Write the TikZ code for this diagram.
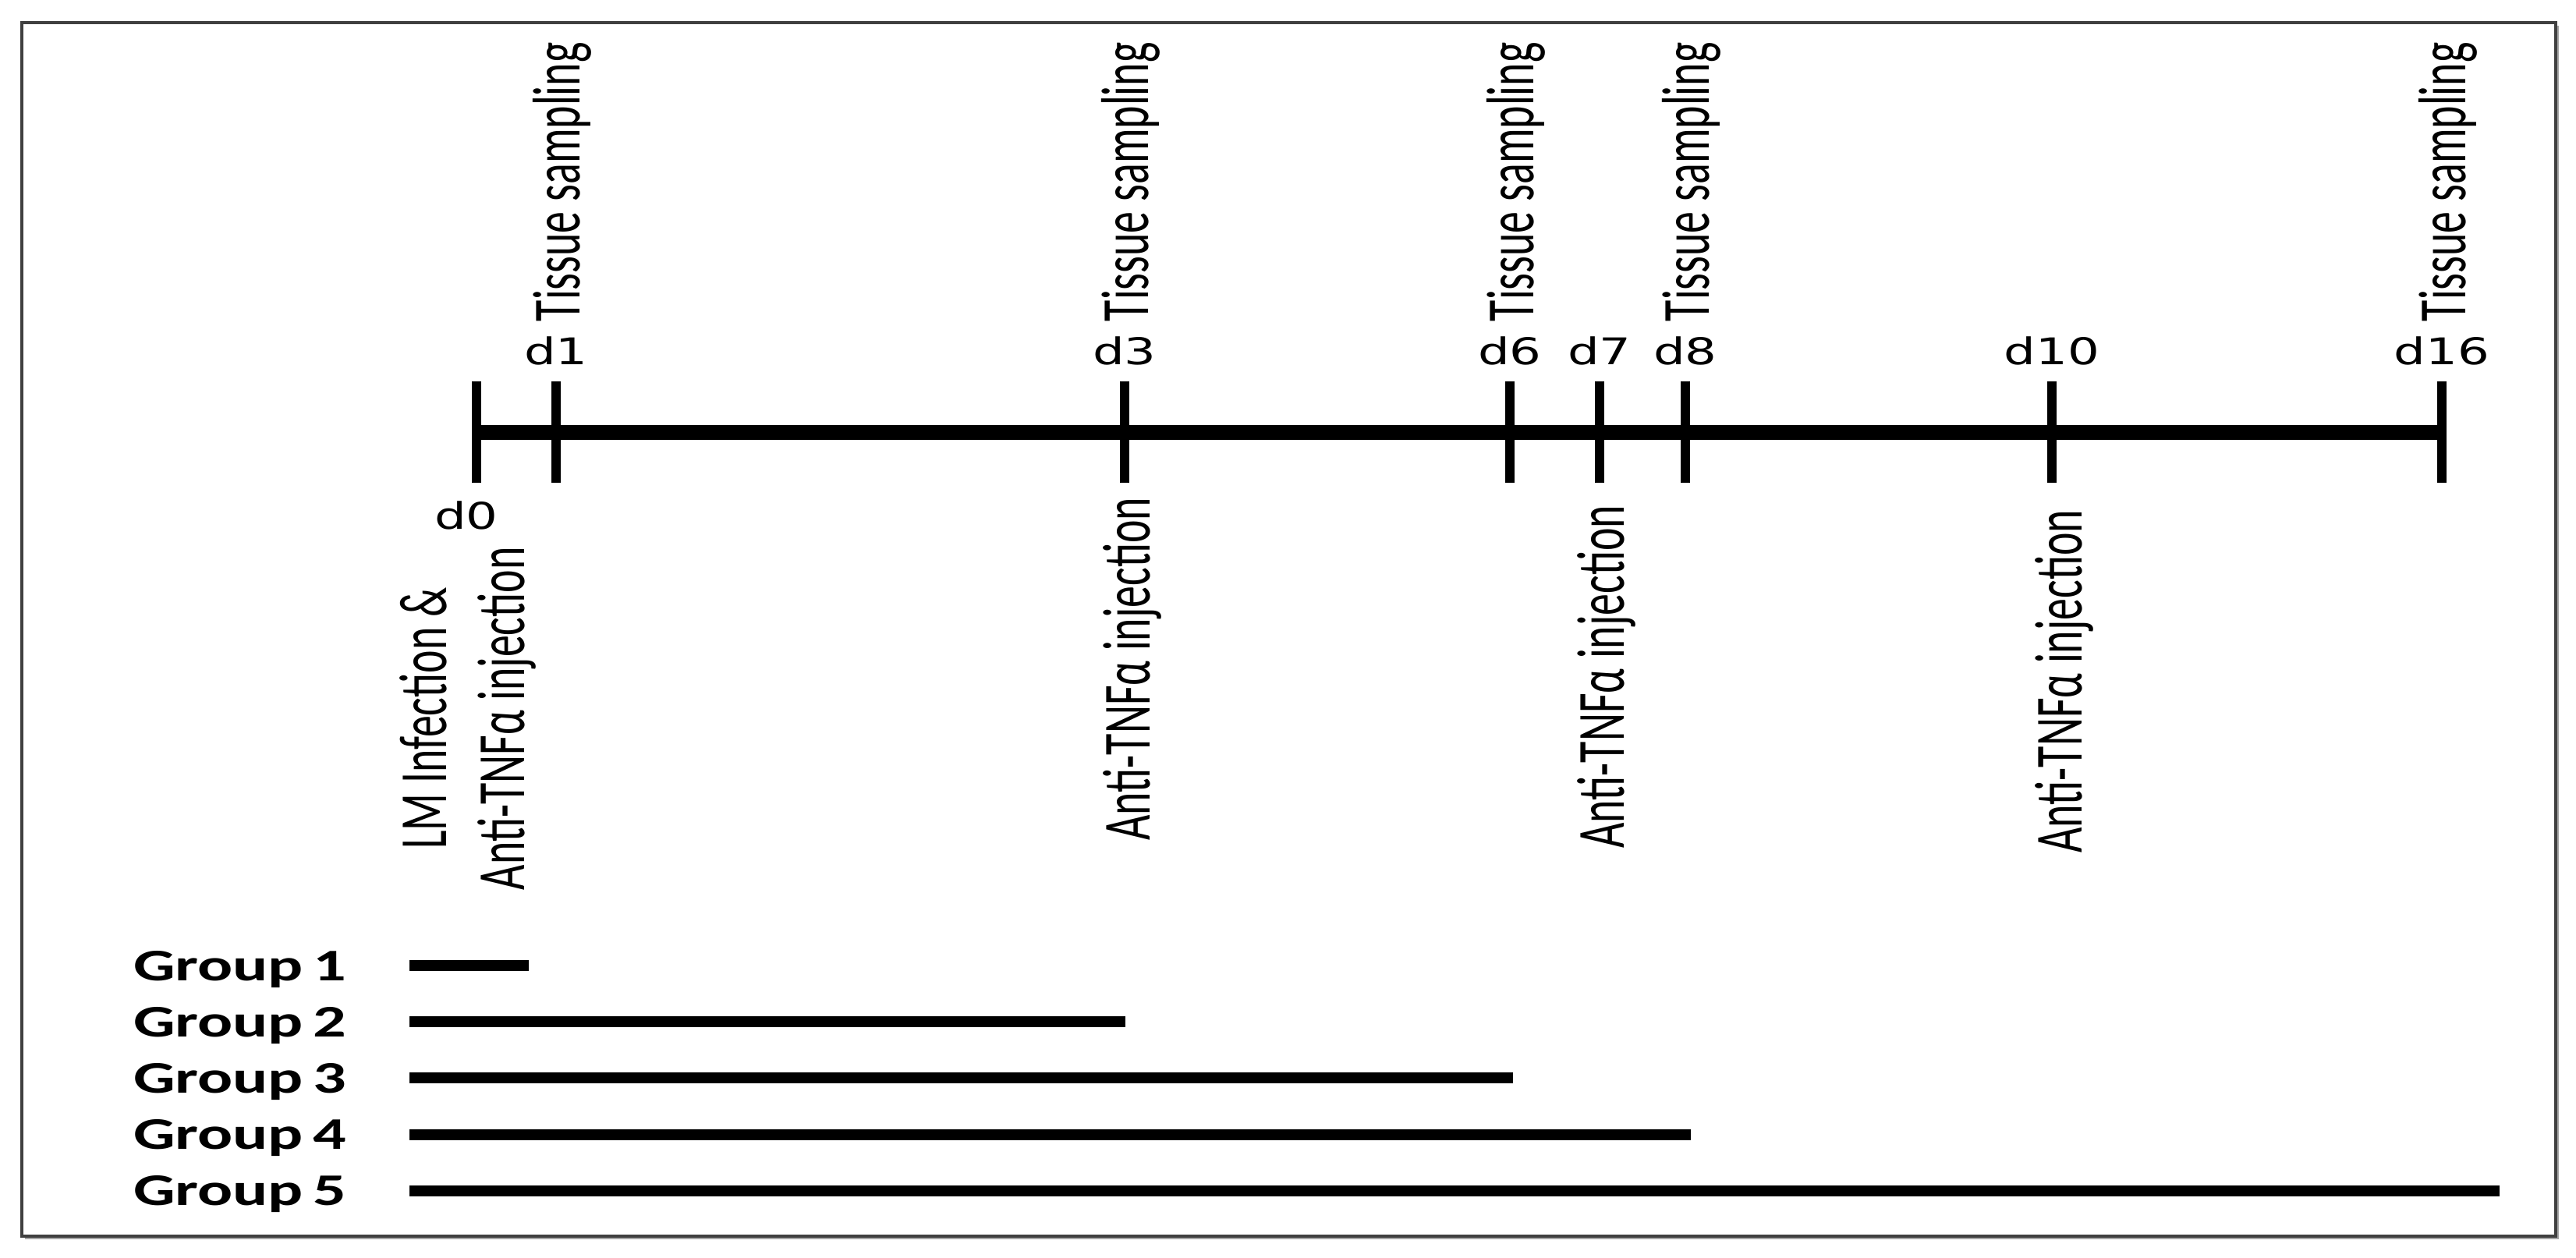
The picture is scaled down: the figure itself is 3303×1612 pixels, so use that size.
\documentclass[tikz,border=0pt]{standalone}
\usepackage{fontspec}
\setmainfont{Carlito}
\newfontfamily\dayfont{DejaVu Sans}
\usepackage{tikz}
\usetikzlibrary{shadows}
\usepackage{xcolor}

\tikzset{
	timeline/.style={line width=5.4pt},
	daytick/.style={line width=3.5pt},
	grpbar/.style={line width=4pt},
	daylbl/.style={font=\dayfont\fontsize{13.4}{16}\selectfont,xscale=1.36,inner sep=0pt},
	vlabel/.style={font=\fontsize{15.9}{18.4}\selectfont,xscale=1.55,rotate=90,inner sep=0pt,anchor=west},
	grplbl/.style={font=\bfseries\fontsize{16.5}{19}\selectfont,xscale=1.45,inner sep=0pt,anchor=base west},
	outerbox/.style={draw=black!75,line width=1.1pt,fill=white,drop shadow={shadow xshift=0.04cm,shadow yshift=-0.04cm,fill=black!35,opacity=1}}
}

\begin{document}
\begin{tikzpicture}[x=0.01cm,y=-0.01cm]
	
	\useasboundingbox (0,0) rectangle (3303,1612);
	
	% frame
	\draw[outerbox] (28,29) rectangle (3277,1585);
	
	% time line
	\foreach \d/\x in {0/611,1/713,3/1442,6/1936,7/2051,8/2161,10/2631,16/3131}
		\coordinate (t\d) at (\x,554);
	\draw[timeline] (t0) -- (t16);
	\foreach \d in {0,1,3,6,7,8,10,16}
		\draw[daytick] ([yshift=0.65cm]t\d) -- ([yshift=-0.65cm]t\d);
	
	% day labels
	\foreach \d in {1,3,6,7,8,10,16}
		\node[daylbl] (l\d) at ([yshift=1.04cm]t\d) {d\d};
	\node[daylbl] (l0) at ([xshift=-0.13cm,yshift=-1.07cm]t0) {d0};
	
	% tissue sampling
	\foreach \d in {1,3,6,8,16}
		\node[vlabel] (ts\d) at ([xshift=0.08cm,yshift=1.41cm]t\d) {Tissue sampling};
	
	% infection and injections
	\node[vlabel,anchor=center,align=center] (inj0) at ([xshift=-0.11cm,yshift=-3.67cm]t0) {LM Infection \&\\Anti-TNFα injection};
	\node[vlabel] (inj3) at ([xshift=0.1cm,yshift=-5.24cm]t3) {Anti-TNFα injection};
	\node[vlabel] (inj7) at ([xshift=0.09cm,yshift=-5.34cm]t7) {Anti-TNFα injection};
	\node[vlabel] (inj10) at ([xshift=0.16cm,yshift=-5.4cm]t10) {Anti-TNFα injection};
	
	% groups
	\foreach \g/\e [count=\i from 0] in {1/678,2/1443,3/1940,4/2168,5/3205} {
		\pgfmathsetmacro\yy{1238+72.2*\i}
		\coordinate (gs\g) at (525,\yy);
		\coordinate (ge\g) at (\e,\yy);
		\draw[grpbar] (gs\g) -- (ge\g);
		\node[grplbl] (grp\g) at ([yshift=-0.19cm]170,\yy) {Group\hspace{0.15em}\g};
	}
	
\end{tikzpicture}
\end{document}
